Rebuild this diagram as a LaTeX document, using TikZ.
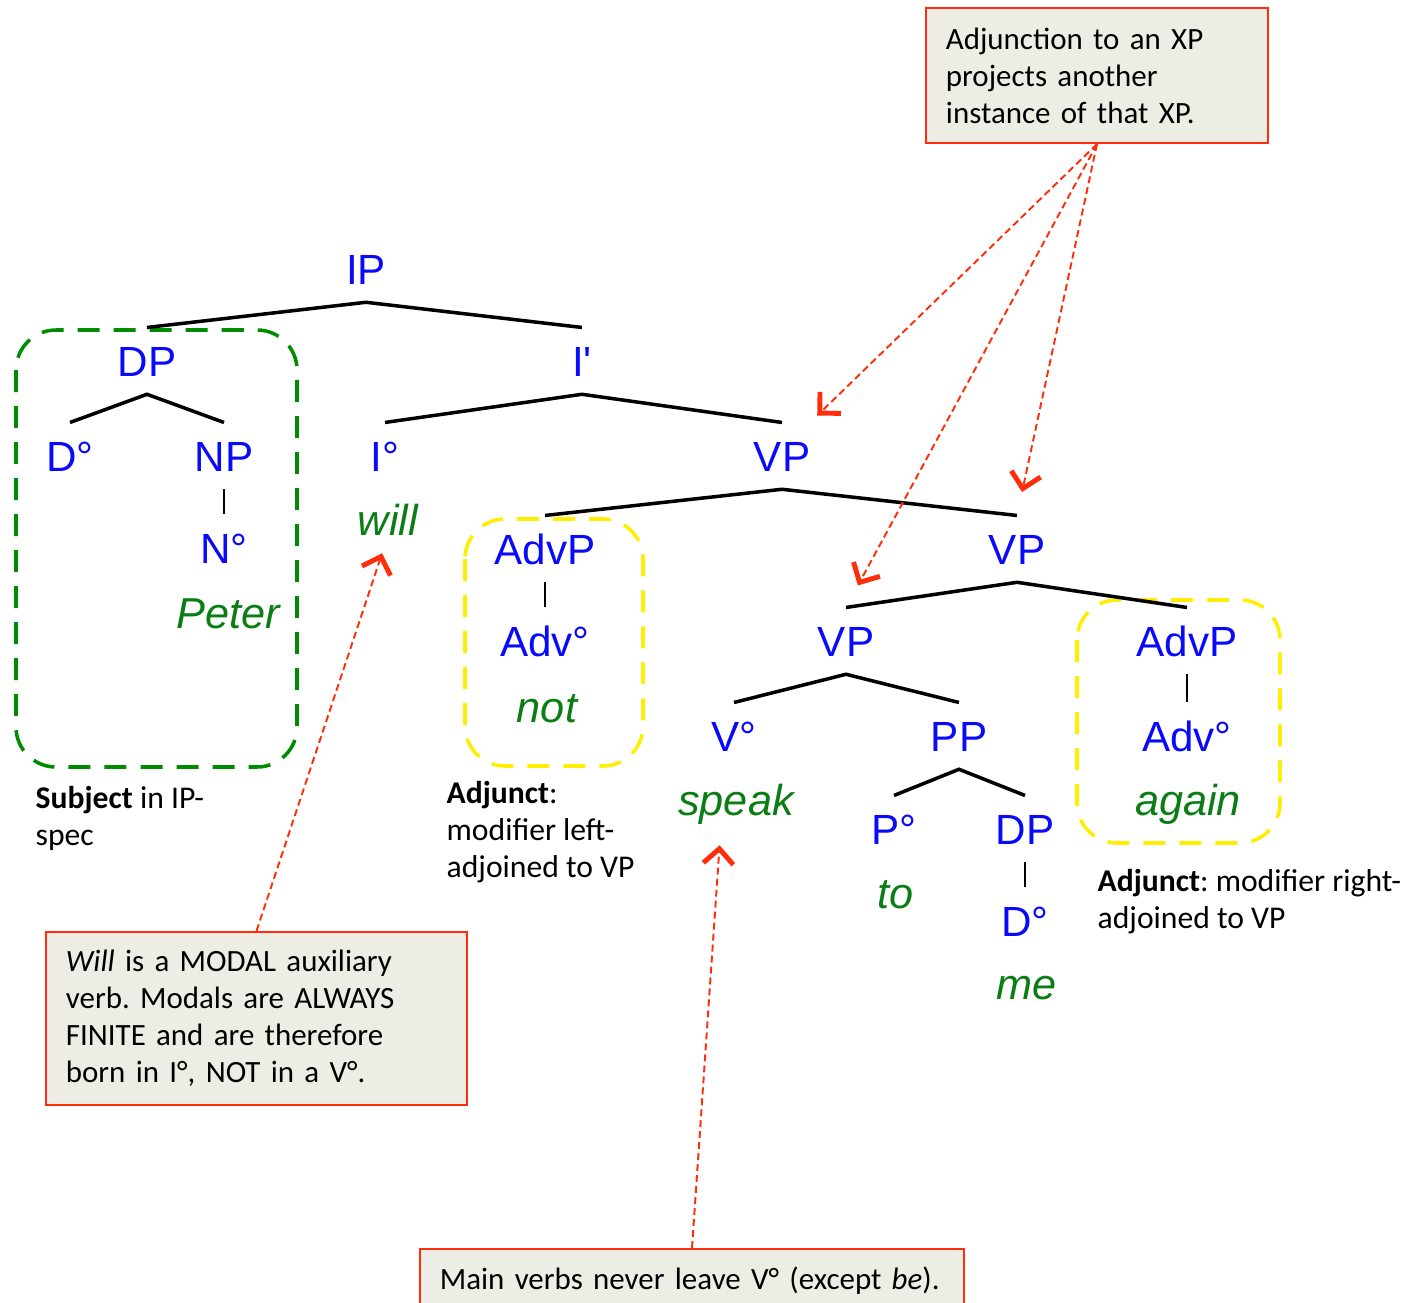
\documentclass[tikz,border=0pt]{standalone}
\usepackage{fontspec}
\setmainfont{Carlito}
\newfontfamily\treefont{Liberation Sans}
\usetikzlibrary{arrows.meta, positioning}
\frenchspacing

\definecolor{catblue}{RGB}{10,10,250}
\definecolor{wordgreen}{RGB}{10,125,20}
\definecolor{boxgreen}{RGB}{0,140,0}
\definecolor{boxyellow}{RGB}{255,238,0}
\definecolor{notered}{RGB}{255,45,10}
\definecolor{notefill}{RGB}{238,237,229}

\tikzset{
  cat/.style={font=\treefont\fontsize{12}{14}\selectfont, text=catblue, anchor=base,
              text height=8.6pt, text depth=0pt, inner xsep=3pt, inner ysep=5pt},
  word/.style={cat, text=wordgreen, font=\treefont\itshape\fontsize{12.3}{14}\selectfont},
  branch/.style={line width=1pt},
  unary/.style={line width=0.55pt},
  note/.style={draw=notered, line width=0.6pt, fill=notefill, align=left,
               font=\fontsize{8.8}{10.5}\selectfont, inner xsep=2mm},
  remark/.style={align=left, font=\fontsize{9}{10.5}\selectfont, anchor=north west, inner sep=0pt},
  pointer/.style={draw=notered, line width=0.55pt, dash pattern=on 0.7mm off 0.4mm,
                  -{Straight Barb[length=1.5mm,width=3mm,line width=1.4pt]}},
  groupbox/.style={line width=1pt, rounded corners=4mm, dash pattern=on 2.2mm off 1.4mm}
}

\begin{document}
\begin{tikzpicture}[x=0.01cm, y=-0.01cm]
    \useasboundingbox (0,0) rectangle (1414,1303);

    % subject / adjunct groups
    \draw[groupbox, boxgreen] (16,330) rectangle (297,767);
    \draw[groupbox, boxyellow] (465,519) rectangle (643,766);
    \draw[groupbox, boxyellow] (1077,600) rectangle (1280,843);

    % the tree
    \node[cat] (ip) at (366,284) {IP};
    \node[cat] (dp) at (147,376) {DP};
    \node[cat] (ibar) at (582,376) {I\textquotesingle};
    \node[cat] (d) at (70,471) {D°};
    \node[cat] (np) at (224,471) {NP};
    \node[cat] (n) at (224,563) {N°};
    \node[word] (peter) at (228,628) {Peter};
    \node[cat] (i) at (385,471) {I°};
    \node[word] (will) at (388,535) {will};
    \node[cat] (vp) at (782,471) {VP};
    \node[cat] (advp) at (545,564) {AdvP};
    \node[cat] (adv) at (545,656) {Adv°};
    \node[word] (not) at (547,722) {not};
    \node[cat] (vpr) at (1017,564) {VP};
    \node[cat] (vpl) at (846,656) {VP};
    \node[cat] (advpr) at (1187,656) {AdvP};
    \node[cat] (advr) at (1187,751) {Adv°};
    \node[word] (again) at (1188,815) {again};
    \node[cat] (v) at (734,751) {V°};
    \node[word] (speak) at (736,815) {speak};
    \node[cat] (pp) at (959,751) {PP};
    \node[cat] (p) at (894,844) {P°};
    \node[word] (to) at (896,908) {to};
    \node[cat] (dpr) at (1025,844) {DP};
    \node[cat] (dr) at (1025,936) {D°};
    \node[word] (me) at (1027,999) {me};

    \foreach \m/\l/\r in {ip/dp/ibar, dp/d/np, ibar/i/vp, vp/advp/vpr, vpr/vpl/advpr, vpl/v/pp, pp/p/dpr}
        \draw[branch] (\l.north) -- (\m.south) -- (\r.north);
    \foreach \m/\c in {np/n, advp/adv, advpr/advr, dpr/dr}
        \draw[unary] (\m.south) -- (\c.north);

    % remarks under the groups
    \node[remark] (subj) at (35,786) {\textbf{Subject} in IP-\\spec};
    \node[remark] (ladj) at (446,781) {\textbf{Adjunct}:\\modifier left-\\adjoined to VP};
    \node[remark] (radj) at (1097,869) {\textbf{Adjunct}: modifier right-\\adjoined to VP};

    % notes
    \node[note, text width=3.02cm, minimum height=1.35cm] (xpnote) at (1097,75.5)
        {Adjunction to an XP\\projects another\\instance of that XP.};
    \node[note, text width=3.81cm, minimum height=1.73cm] (willnote) at (256.5,1018.5)
        {\textit{Will} is a MODAL auxiliary\\verb. Modals are ALWAYS\\FINITE and are therefore\\born in I°, NOT in a V°.};
    \node[note, text width=5.04cm, minimum height=0.64cm, anchor=north] (mainnote) at (692,1248)
        {Main verbs never leave V° (except \textit{be}).};

    \draw[pointer, shorten >=1mm] (xpnote.south) -- (vp.50);
    \draw[pointer, shorten >=2.5mm] (xpnote.south) -- (vpl.north);
    \draw[pointer, shorten >=2.4mm] (xpnote.south) -- (vpr.north);
    \draw[pointer] (willnote.north) -- (will.260);
    \draw[pointer, shorten >=1.2mm] (mainnote.north) -- (speak.245);
\end{tikzpicture}
\end{document}
